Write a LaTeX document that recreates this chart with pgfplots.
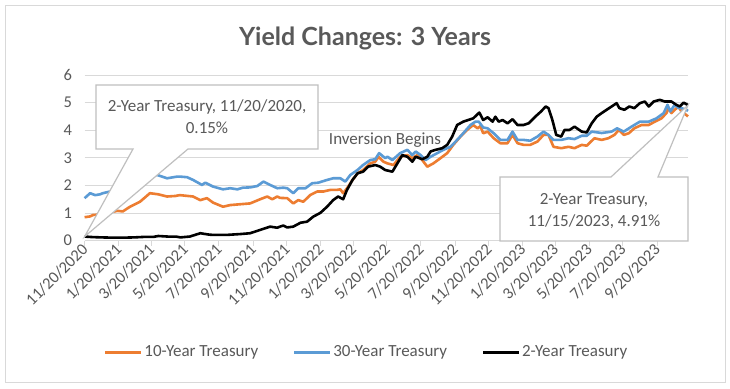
\documentclass[border=0pt]{standalone}
\usepackage{pgfplots}
\pgfplotsset{compat=1.18}
\usepackage{fontspec}
\setmainfont{Carlito}
\newfontfamily\titlefont{Lato}
\definecolor{txt}{HTML}{595959}
\definecolor{gridc}{HTML}{D9D9D9}
\definecolor{ten}{HTML}{ED7D31}
\definecolor{thirty}{HTML}{5B9BD5}
\definecolor{callout}{HTML}{BFBFBF}
\begin{document}
\begin{tikzpicture}
\begin{scope}[x=1pt,y=1pt]
\fill[white] (0,0) rectangle (730,388);
\draw[gridc, line width=0.75pt] (5.5,5.5) rectangle (725,383);
\node[font=\titlefont\bfseries\fontsize{25}{28}\selectfont, text=txt] at (365,350) {Yield Changes: 3 Years};
\end{scope}
\begin{axis}[at={(84.6pt,147.3pt)}, anchor=south west, scale only axis,
  width=603.4pt, height=165.7pt,
  xmin=0, xmax=1090, ymin=0, ymax=6,
  axis x line*=bottom, axis y line*=left,
  y axis line style={draw=none},
  x axis line style={draw=gridc, line width=0.75pt},
  ymajorgrids, grid style={draw=gridc, line width=0.75pt},
  ytick={0,1,2,3,4,5,6}, ytick style={draw=none},
  xtick={0,61,120,181,242,304,365,426,485,546,607,669,730,791,850,911,972,1034},
  xticklabels={11/20/2020,1/20/2021,3/20/2021,5/20/2021,7/20/2021,9/20/2021,11/20/2021,1/20/2022,3/20/2022,5/20/2022,7/20/2022,9/20/2022,11/20/2022,1/20/2023,3/20/2023,5/20/2023,7/20/2023,9/20/2023},
  tick align=outside, major tick length=5pt,
  xtick style={draw=gridc, line width=0.75pt},
  /pgf/number format/assume math mode=true,
  tick label style={font=\fontsize{16.5}{17}\selectfont, text=txt},
  x tick label style={rotate=45, anchor=east, yshift=-1pt, xshift=3pt},
  y tick label style={xshift=-4pt},
  legend style={at={(0.467,-0.672)}, anchor=center, draw=none, fill=none,
    legend columns=3, font=\fontsize{17}{17}\selectfont, text=txt,
    nodes={inner xsep=1.5pt},
    /tikz/every even column/.append style={column sep=33pt}},
  legend image code/.code={\draw[#1, line width=3pt] (0pt,0pt) -- (36pt,0pt);},
  every axis plot/.append style={line width=2.6pt, line join=round, mark=none},
  clip=false
]
\addplot[ten] coordinates {
(0,0.85)(10,0.88)(15,0.93)(28,0.95)(40,1.0)(51,1.05)(60,1.08)(69,1.06)(82,1.23)(100,1.41)
(118,1.72)(133,1.68)(149,1.6)(164,1.62)(172,1.65)(196,1.6)(209,1.47)(221,1.54)(232,1.38)
(250,1.23)(263,1.29)(281,1.32)(299,1.35)(317,1.5)(330,1.6)(339,1.5)(348,1.6)(353,1.55)
(366,1.54)(377,1.35)(386,1.47)(395,1.41)(408,1.66)(420,1.78)(431,1.78)(444,1.84)(456,1.84)
(462,1.86)(467,1.72)(474,1.9)(484,2.2)(493,2.44)(503,2.56)(516,2.8)(525,2.86)(531,3.04)
(540,2.86)(547,2.8)(558,2.74)(570,3.04)(583,3.1)(592,2.99)(601,3.1)(610,2.92)(619,2.68)
(630,2.8)(643,2.99)(655,3.17)(666,3.47)(679,3.77)(691,4.01)(702,4.19)(710,4.07)(715,4.15)
(720,3.89)(728,3.95)(739,3.71)(751,3.53)(764,3.53)(773,3.83)(782,3.53)(793,3.47)(805,3.47)
(818,3.59)(829,3.83)(838,3.83)(847,3.4)(861,3.35)(874,3.4)(885,3.35)(898,3.47)(907,3.44)
(921,3.71)(934,3.65)(946,3.71)(957,3.83)(965,4.01)(974,3.83)(983,3.89)(993,4.07)(1006,4.19)
(1019,4.19)(1030,4.31)(1042,4.43)(1051,4.62)(1055,4.8)(1060,4.62)(1066,4.74)(1073,4.86)
(1078,4.68)(1087,4.55)(1090,4.5)};
\addlegendentry{10-Year Treasury}
\addplot[thirty] coordinates {
(0,1.54)(10,1.72)(19,1.65)(28,1.68)(33,1.72)(50,1.8)(70,1.9)(90,2.05)(110,2.25)(118,2.35)
(131,2.38)(149,2.26)(167,2.32)(173,2.32)(185,2.3)(196,2.2)(212,2.02)(218,2.1)(232,1.96)
(250,1.86)(263,1.9)(276,1.86)(286,1.92)(299,1.93)(312,1.98)(323,2.14)(335,2.02)(348,1.9)
(359,1.92)(366,1.9)(377,1.72)(386,1.9)(399,1.9)(411,2.08)(422,2.1)(438,2.2)(449,2.26)
(462,2.26)(471,2.14)(480,2.38)(493,2.56)(503,2.74)(516,2.92)(525,2.95)(532,3.17)(543,2.99)
(547,3.04)(556,2.92)(570,3.17)(583,3.29)(592,3.1)(598,3.23)(607,3.1)(616,2.92)(625,3.04)
(637,3.17)(648,3.29)(661,3.4)(673,3.65)(684,3.89)(697,4.19)(706,4.31)(712,4.31)(720,4.1)
(728,4.07)(739,3.89)(751,3.65)(764,3.65)(773,3.95)(782,3.65)(793,3.65)(805,3.62)(818,3.77)
(829,3.95)(838,3.83)(847,3.65)(861,3.65)(874,3.71)(885,3.68)(898,3.8)(907,3.8)(916,3.95)
(934,3.9)(952,3.95)(962,4.07)(974,3.95)(988,4.13)(1003,4.31)(1019,4.31)(1033,4.43)
(1046,4.62)(1053,4.92)(1058,4.68)(1066,4.92)(1073,4.8)(1078,4.8)(1087,4.74)(1090,4.7)};
\addlegendentry{30-Year Treasury}
\addplot[black] coordinates {
(0,0.15)(15,0.13)(30,0.12)(50,0.11)(70,0.11)(90,0.12)(110,0.14)(125,0.14)(133,0.17)
(150,0.15)(165,0.15)(173,0.12)(190,0.15)(209,0.27)(225,0.22)(232,0.21)(257,0.21)(281,0.24)
(299,0.27)(317,0.39)(335,0.51)(348,0.47)(353,0.51)(359,0.55)(366,0.48)(377,0.51)(390,0.65)
(402,0.69)(413,0.87)(426,1.01)(438,1.23)(449,1.47)(458,1.6)(467,1.5)(474,1.84)(484,2.2)
(493,2.44)(503,2.5)(512,2.68)(525,2.74)(534,2.68)(543,2.56)(556,2.5)(565,2.8)(574,3.1)
(583,3.04)(592,2.86)(598,3.04)(610,2.95)(619,3.04)(625,3.23)(634,3.29)(646,3.35)(655,3.47)
(664,3.77)(673,4.19)(684,4.31)(693,4.37)(702,4.43)(713,4.64)(720,4.37)(728,4.47)(737,4.31)
(742,4.49)(748,4.31)(755,4.37)(764,4.25)(773,4.4)(782,4.19)(793,4.19)(802,4.25)(814,4.49)
(824,4.67)(833,4.86)(838,4.8)(845,4.37)(852,3.83)(861,3.77)(867,4.01)(876,4.01)(885,4.13)
(898,3.95)(907,3.92)(916,4.25)(925,4.49)(934,4.62)(943,4.74)(952,4.86)(961,4.98)(966,4.8)
(975,4.74)(984,4.86)(993,4.8)(1003,4.98)(1012,5.04)(1019,4.86)(1028,5.04)(1039,5.1)
(1048,5.04)(1060,5.04)(1069,4.92)(1075,4.86)(1082,5.0)(1090,4.91)};
\addlegendentry{2-Year Treasury}
\end{axis}
\begin{scope}[x=1pt,y=1pt]
% callout 1
\filldraw[fill=white, draw=callout, line width=1.2pt, line join=miter]
  (96,303) -- (318,303) -- (318,239) -- (188,239) -- (84.6,151.4) -- (133,239) -- (96,239) -- cycle;
\node[font=\fontsize{17}{22}\selectfont, text=txt, align=center] at (207,271)
  {2-Year Treasury, 11/20/2020,\\0.15\%};
% callout 2
\filldraw[fill=white, draw=callout, line width=1.2pt, line join=miter]
  (500,211) -- (611,211) -- (688,282.8) -- (658,211) -- (688,211) -- (688,147) -- (500,147) -- cycle;
\node[font=\fontsize{17}{22}\selectfont, text=txt, align=center] at (594,177)
  {2-Year Treasury,\\11/15/2023, 4.91\%};
\node[font=\fontsize{17}{20}\selectfont, text=txt] at (385,248) {Inversion Begins};
\end{scope}
\end{tikzpicture}
\end{document}
